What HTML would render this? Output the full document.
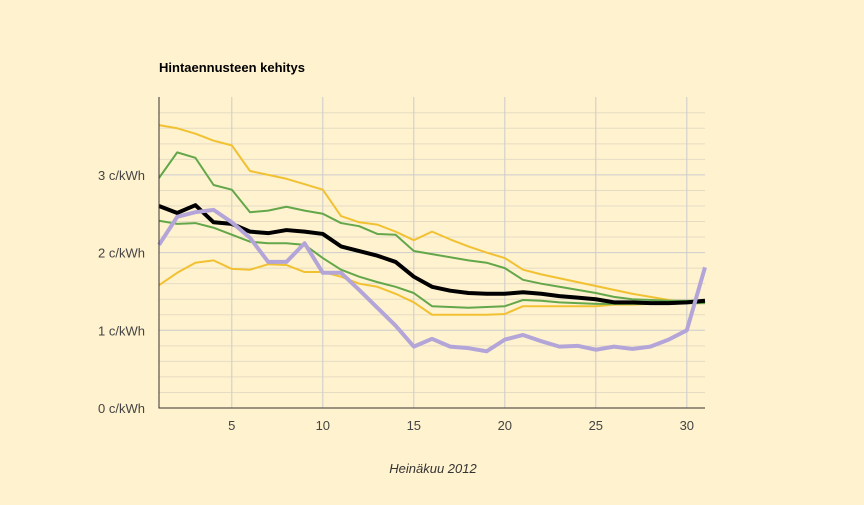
<!DOCTYPE html>
<html><head><meta charset="utf-8"><style>
html,body{margin:0;padding:0;background:#fff2cf;}
svg{display:block;font-family:"Liberation Sans",sans-serif;}
</style></head><body>
<svg id="chart" width="864" height="505">
<rect width="864" height="505" fill="#fff2cf"/>
<text x="159" y="72" font-size="13" font-weight="bold" fill="#000">Hintaennusteen kehitys</text>
<g id="grid"></g>
<g id="series"></g>
<g id="axes"></g>
<text x="433" y="473" font-size="13" font-style="italic" fill="#333" text-anchor="middle">Heinäkuu 2012</text>
</svg>
<script>
const days=[1,2,3,4,5,6,7,8,9,10,11,12,13,14,15,16,17,18,19,20,21,22,23,24,25,26,27,28,29,30,31];
const xTicks=[5,10,15,20,25,30];
const yTicks=[0,1,2,3];
const yTickLabels=["0 c/kWh","1 c/kWh","2 c/kWh","3 c/kWh"];
const upperYellow=[3.64,3.6,3.53,3.44,3.38,3.05,3.0,2.95,2.88,2.81,2.47,2.39,2.36,2.27,2.16,2.27,2.17,2.08,2.0,1.93,1.78,1.72,1.67,1.62,1.57,1.52,1.47,1.43,1.39,1.36,1.36];
const upperGreen=[2.96,3.29,3.22,2.87,2.81,2.52,2.54,2.59,2.54,2.5,2.38,2.34,2.24,2.23,2.02,1.98,1.94,1.9,1.87,1.8,1.65,1.6,1.56,1.52,1.48,1.43,1.4,1.39,1.38,1.38,1.38];
const forecast=[2.6,2.51,2.61,2.39,2.37,2.27,2.25,2.29,2.27,2.24,2.08,2.02,1.96,1.88,1.69,1.56,1.51,1.48,1.47,1.47,1.49,1.47,1.44,1.42,1.4,1.36,1.36,1.35,1.35,1.36,1.38];
const lowerGreen=[2.41,2.37,2.38,2.32,2.23,2.14,2.12,2.12,2.1,1.93,1.78,1.69,1.62,1.56,1.48,1.31,1.3,1.29,1.3,1.31,1.39,1.38,1.36,1.35,1.34,1.34,1.34,1.34,1.34,1.35,1.35];
const lowerYellow=[1.58,1.74,1.87,1.9,1.79,1.78,1.85,1.84,1.75,1.75,1.69,1.6,1.56,1.47,1.36,1.2,1.2,1.2,1.2,1.21,1.31,1.31,1.31,1.31,1.31,1.33,1.33,1.34,1.34,1.35,1.35];
const actual=[2.1,2.46,2.52,2.55,2.39,2.19,1.88,1.88,2.12,1.74,1.74,1.52,1.29,1.06,0.79,0.89,0.79,0.77,0.73,0.88,0.94,0.86,0.79,0.8,0.75,0.79,0.76,0.79,0.88,1.0,1.81];

const NS="http://www.w3.org/2000/svg";
const X0=159,X1=705,Y0=408,YTOP=97;
function xs(d){return X0+(d-1)*(X1-X0)/30;}
function ys(v){return Y0-v*77.7;}
const grid=document.getElementById('grid'),ser=document.getElementById('series'),axes=document.getElementById('axes');
function mk(tag,attrs,parent){const e=document.createElementNS(NS,tag);for(const k in attrs)e.setAttribute(k,attrs[k]);parent.appendChild(e);return e;}
// minor horizontal grid
for(let i=1;i<=19;i++){
  const v=i*0.2; const major=(i%5===0);
  const l=mk('line',{x1:X0,x2:X1,y1:ys(v),y2:ys(v),stroke:major?'#cccccc':'#e6dcc4','stroke-width':1},grid);
  
  
}
xTicks.forEach(d=>{
  const l=mk('line',{x1:xs(d),x2:xs(d),y1:YTOP,y2:Y0,stroke:'#cccccc','stroke-width':1},grid);
  
  
  const t=mk('text',{x:xs(d),y:Y0+22,'font-size':13,fill:'#444','text-anchor':'middle'},axes);
  t.textContent=d;
  
  
});
yTicks.forEach((v,i)=>{
  const t=mk('text',{x:145,y:ys(v)+5,'font-size':13,fill:'#444','text-anchor':'end'},axes);
  t.textContent=yTickLabels[i];
  
  
});
const ya=mk('line',{x1:X0,x2:X0,y1:YTOP,y2:Y0+0.5,stroke:'#333','stroke-width':1},axes);


const xa=mk('line',{x1:X0,x2:X1,y1:Y0,y2:Y0,stroke:'#333','stroke-width':1},axes);


function line(vals,color,w,name){
  const p=mk('polyline',{points:vals.map((v,i)=>xs(days[i])+','+ys(v)).join(' '),fill:'none',stroke:color,'stroke-width':w,'stroke-linejoin':'round'},ser);
  
  
}
line(upperYellow,'#f1c132',2,'upper-yellow-line');
line(lowerYellow,'#f1c132',2,'lower-yellow-line');
line(upperGreen,'#63a74a',2,'upper-green-line');
line(lowerGreen,'#63a74a',2,'lower-green-line');
line(forecast,'#000000',4,'forecast-line');
line(actual,'#b3a5d8',4,'actual-price-line');
</script>
</body></html>
